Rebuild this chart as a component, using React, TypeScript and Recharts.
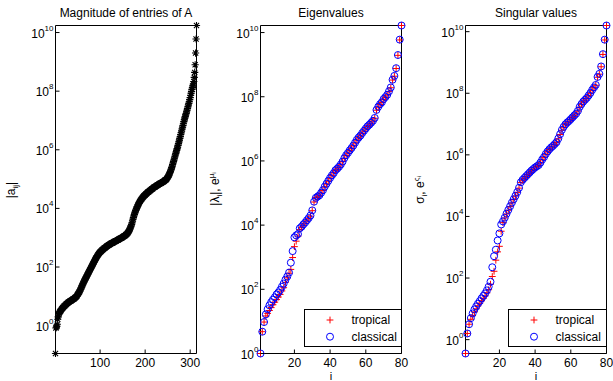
import React from 'react';
import { ScatterChart, Scatter, XAxis, YAxis, Legend } from 'recharts';

const FONT = "'Liberation Sans', Arial, Helvetica, sans-serif";
const W = 613;
const H = 381;

// log10 of sorted magnitudes |a_ij| (panel 1), index 1..314
const entryLog10 = [
  -0.95, -0.08, -0.05, -0.02, 0.05, 0.22, 0.30, 0.37, 0.42, 0.46,
  0.48, 0.50, 0.52, 0.55, 0.57, 0.59, 0.61, 0.62, 0.64, 0.66,
  0.67, 0.69, 0.70, 0.72, 0.73, 0.75, 0.76, 0.77, 0.79, 0.80,
  0.81, 0.82, 0.83, 0.84, 0.85, 0.86, 0.87, 0.88, 0.89, 0.90,
  0.91, 0.92, 0.93, 0.95, 0.96, 0.97, 0.99, 1.00, 1.03, 1.06,
  1.08, 1.11, 1.13, 1.15, 1.18, 1.22, 1.25, 1.29, 1.32, 1.36,
  1.39, 1.43, 1.46, 1.50, 1.53, 1.56, 1.59, 1.62, 1.65, 1.68,
  1.71, 1.74, 1.77, 1.80, 1.83, 1.86, 1.89, 1.92, 1.95, 1.98,
  2.01, 2.04, 2.07, 2.10, 2.13, 2.16, 2.19, 2.22, 2.25, 2.28,
  2.31, 2.33, 2.36, 2.38, 2.41, 2.43, 2.45, 2.47, 2.49, 2.51,
  2.52, 2.54, 2.55, 2.57, 2.58, 2.60, 2.61, 2.62, 2.64, 2.65,
  2.66, 2.67, 2.68, 2.70, 2.71, 2.72, 2.73, 2.74, 2.75, 2.76,
  2.77, 2.78, 2.79, 2.80, 2.81, 2.81, 2.82, 2.83, 2.84, 2.85,
  2.86, 2.87, 2.87, 2.88, 2.89, 2.90, 2.91, 2.91, 2.92, 2.93,
  2.94, 2.95, 2.96, 2.97, 2.97, 2.98, 2.99, 3.00, 3.01, 3.02,
  3.03, 3.04, 3.05, 3.06, 3.07, 3.08, 3.10, 3.11, 3.12, 3.14,
  3.16, 3.18, 3.20, 3.23, 3.26, 3.29, 3.33, 3.37, 3.41, 3.45,
  3.51, 3.57, 3.63, 3.69, 3.74, 3.79, 3.84, 3.88, 3.93, 3.97,
  4.00, 4.04, 4.07, 4.11, 4.14, 4.17, 4.20, 4.23, 4.25, 4.28,
  4.30, 4.32, 4.34, 4.36, 4.38, 4.40, 4.42, 4.43, 4.45, 4.46,
  4.48, 4.49, 4.51, 4.52, 4.54, 4.55, 4.56, 4.57, 4.59, 4.60,
  4.61, 4.62, 4.64, 4.65, 4.66, 4.67, 4.68, 4.70, 4.71, 4.72,
  4.73, 4.74, 4.75, 4.76, 4.77, 4.78, 4.79, 4.80, 4.81, 4.82,
  4.83, 4.84, 4.85, 4.86, 4.86, 4.87, 4.88, 4.89, 4.90, 4.91,
  4.92, 4.93, 4.94, 4.96, 4.97, 4.98, 4.99, 5.01, 5.04, 5.06,
  5.09, 5.11, 5.14, 5.18, 5.22, 5.26, 5.30, 5.34, 5.39, 5.44,
  5.50, 5.55, 5.60, 5.65, 5.71, 5.76, 5.82, 5.87, 5.93, 5.98,
  6.04, 6.09, 6.15, 6.21, 6.27, 6.33, 6.39, 6.45, 6.52, 6.58,
  6.64, 6.71, 6.77, 6.83, 6.89, 6.96, 7.02, 7.08, 7.13, 7.19,
  7.24, 7.30, 7.35, 7.41, 7.47, 7.53, 7.58, 7.64, 7.71, 7.78,
  7.86, 7.93, 7.99, 8.06, 8.12, 8.18, 8.24, 8.33, 8.47, 8.64,
  8.90, 9.30, 9.78, 10.24,
];

// log10 of eigenvalue magnitudes (panel 2), i = 1..80
const eigTropicalLog10 = [
  0.00, 0.68, 0.98, 1.17, 1.25, 1.34, 1.43, 1.52, 1.60, 1.68,
  1.76, 1.84, 1.95, 2.05, 2.22, 2.36, 2.50, 2.62, 2.99, 3.33,
  3.50, 3.66, 3.86, 3.93, 4.00, 4.06, 4.13, 4.20, 4.28, 4.45,
  4.72, 4.86, 4.88, 4.91, 5.00, 5.08, 5.19, 5.28, 5.37, 5.46,
  5.55, 5.63, 5.70, 5.75, 5.81, 5.88, 5.98, 6.08, 6.17, 6.24,
  6.32, 6.39, 6.47, 6.56, 6.65, 6.72, 6.78, 6.86, 6.93, 7.00,
  7.07, 7.12, 7.18, 7.24, 7.33, 7.58, 7.68, 7.76, 7.82, 7.92,
  7.98, 8.05, 8.16, 8.28, 8.52, 8.64, 8.88, 9.29, 9.77, 10.22,
];
const eigClassicalLog10 = [
  0.00, 0.68, 0.98, 1.22, 1.38, 1.50, 1.60, 1.68, 1.75, 1.84,
  1.90, 1.98, 2.08, 2.18, 2.30, 2.40, 2.52, 2.83, 3.19, 3.62,
  3.68, 3.72, 3.90, 3.95, 4.02, 4.08, 4.15, 4.22, 4.30, 4.46,
  4.73, 4.85, 4.89, 4.93, 5.01, 5.09, 5.20, 5.29, 5.38, 5.47,
  5.55, 5.62, 5.71, 5.76, 5.82, 5.89, 5.98, 6.09, 6.18, 6.25,
  6.33, 6.40, 6.48, 6.57, 6.66, 6.73, 6.79, 6.87, 6.94, 7.01,
  7.08, 7.13, 7.19, 7.25, 7.34, 7.59, 7.69, 7.77, 7.83, 7.93,
  7.99, 8.06, 8.17, 8.29, 8.53, 8.65, 8.89, 9.30, 9.78, 10.22,
];

// log10 of singular values (panel 3), i = 1..80
const svdTropicalLog10 = [
  -0.45, 0.20, 0.50, 0.66, 0.78, 0.90, 1.00, 1.10, 1.18, 1.26,
  1.34, 1.42, 1.52, 1.62, 1.80, 2.05, 2.22, 2.58, 2.85, 3.03,
  3.52, 3.80, 3.95, 4.08, 4.20, 4.32, 4.44, 4.55, 4.66, 4.78,
  4.92, 5.10, 5.18, 5.24, 5.30, 5.36, 5.42, 5.48, 5.53, 5.58,
  5.62, 5.66, 5.74, 5.84, 5.92, 6.02, 6.10, 6.17, 6.23, 6.28,
  6.34, 6.40, 6.52, 6.66, 6.80, 6.90, 6.98, 7.04, 7.09, 7.15,
  7.21, 7.27, 7.33, 7.42, 7.55, 7.64, 7.72, 7.78, 7.84, 7.92,
  8.00, 8.10, 8.18, 8.26, 8.52, 8.62, 8.86, 9.26, 9.73, 10.20,
];
const svdClassicalLog10 = [
  -0.45, 0.20, 0.50, 0.70, 0.85, 0.98, 1.08, 1.17, 1.25, 1.34,
  1.42, 1.50, 1.60, 1.72, 1.88, 2.35, 2.71, 2.92, 3.22, 3.45,
  3.74, 3.84, 3.96, 4.09, 4.21, 4.33, 4.45, 4.56, 4.67, 4.79,
  4.93, 5.11, 5.19, 5.25, 5.31, 5.37, 5.43, 5.49, 5.54, 5.59,
  5.63, 5.67, 5.75, 5.85, 5.93, 6.03, 6.11, 6.18, 6.24, 6.29,
  6.35, 6.41, 6.53, 6.67, 6.81, 6.91, 6.99, 7.05, 7.10, 7.16,
  7.22, 7.28, 7.34, 7.43, 7.56, 7.65, 7.73, 7.79, 7.85, 7.93,
  8.01, 8.11, 8.19, 8.27, 8.53, 8.63, 8.87, 9.27, 9.74, 10.20,
];

const logTicks = [1, 1e2, 1e4, 1e6, 1e8, 1e10];
const entryXTicks = [100, 200, 300];
const indexXTicks = [20, 40, 60, 80];
const titles = ['Magnitude of entries of A', 'Eigenvalues', 'Singular values'];

const toPoints = (exps: number[]) => exps.map((e, k) => ({ x: k + 1, y: Math.pow(10, e) }));

const PLOT_TOP = 25.5;
const PLOT_BOTTOM = 353.5;
const XH = 20;
const YW = 40;

function StarMark(props: any) {
  const { cx, cy } = props;
  const r = 3.6;
  const d = r * 0.72;
  return (
    <path
      d={`M${cx - r},${cy}h${2 * r}M${cx},${cy - r}v${2 * r}M${cx - d},${cy - d}l${2 * d},${2 * d}M${cx - d},${cy + d}l${2 * d},${-2 * d}`}
      stroke="#000"
      strokeWidth={1.1}
      fill="none"
    />
  );
}

function PlusMark(props: any) {
  const { cx, cy } = props;
  const r = 3.4;
  return <path d={`M${cx - r},${cy}h${2 * r}M${cx},${cy - r}v${2 * r}`} stroke="#ff0000" strokeWidth={1} fill="none" />;
}

function RingMark(props: any) {
  const { cx, cy } = props;
  return <circle cx={cx} cy={cy} r={3.5} stroke="#0000ff" strokeWidth={1} fill="none" />;
}

function XTick(props: any) {
  const { x, y, payload } = props;
  return (
    <g>
      <line x1={x} x2={x} y1={y} y2={y - 4} stroke="#000" strokeWidth={1} />
      <text x={x} y={y + 13} textAnchor="middle" fontFamily={FONT} fontSize={12} fill="#000">
        {payload.value}
      </text>
    </g>
  );
}

function YTick(props: any) {
  const { x, y, payload } = props;
  const exp = Math.round(Math.log10(payload.value));
  return (
    <g>
      <line x1={x} x2={x + 4} y1={y} y2={y} stroke="#000" strokeWidth={1} />
      <text x={x - 2} y={y + 5} textAnchor="end" fontFamily={FONT} fontSize={12} fill="#000">
        10
        <tspan dy={-7} fontSize={8}>
          {exp}
        </tspan>
      </text>
    </g>
  );
}

type SeriesDef = { name: string; data: { x: number; y: number }[]; mark: 'star' | 'plus' | 'ring' };

function markFor(m: string) {
  if (m === 'star') return (p: any) => <StarMark {...p} />;
  if (m === 'plus') return (p: any) => <PlusMark {...p} />;
  return (p: any) => <RingMark {...p} />;
}

function LegendBox({ items, w, h }: { items: SeriesDef[]; w: number; h: number }) {
  return (
    <svg width={w} height={h} style={{ display: 'block' }}>
      <rect x={0.5} y={0.5} width={w - 1} height={h - 1} fill="#fff" stroke="#000" strokeWidth={1} />
      {items.map((it, k) => {
        const cy = 11 + k * 16.7;
        return (
          <g key={it.name}>
            {it.mark === 'plus' ? <PlusMark cx={26} cy={cy} /> : <RingMark cx={26} cy={cy} />}
            <text x={47.5} y={cy + 4.3} fontFamily={FONT} fontSize={12} fill="#000">
              {it.name}
            </text>
          </g>
        );
      })}
    </svg>
  );
}

type PanelProps = {
  plotLeft: number;
  plotRight: number;
  xDomain: [number, number];
  xTicks: number[];
  series: SeriesDef[];
  legend?: { left: number; top: number; w: number; h: number };
};

function Panel({ plotLeft, plotRight, xDomain, xTicks, series, legend }: PanelProps) {
  const allY = series.flatMap((s) => s.data.map((p) => p.y));
  const yDomain: [number, number] = [Math.min(...allY), Math.max(...allY)];
  return (
    <div style={{ position: 'absolute', left: 0, top: 0, width: W, height: H }}>
      <ScatterChart
        width={W}
        height={H}
        margin={{ top: PLOT_TOP, bottom: H - PLOT_BOTTOM - XH, left: plotLeft - YW, right: W - plotRight }}
      >
        <XAxis
          type="number"
          dataKey="x"
          domain={xDomain}
          ticks={xTicks}
          interval={0}
          height={XH}
          tickLine={false}
          tickSize={0}
          tickMargin={0}
          tick={<XTick />}
          axisLine={{ stroke: '#000', strokeWidth: 1 }}
        />
        <YAxis
          type="number"
          dataKey="y"
          scale="log"
          domain={yDomain}
          ticks={logTicks}
          interval={0}
          width={YW}
          tickLine={false}
          tickSize={0}
          tickMargin={0}
          tick={<YTick />}
          axisLine={{ stroke: '#000', strokeWidth: 1 }}
        />
        <XAxis
          xAxisId="top"
          orientation="top"
          mirror
          type="number"
          domain={xDomain}
          allowDataOverflow
          ticks={xTicks}
          interval={0}
          tick={false}
          tickSize={4}
          tickLine={{ stroke: '#000', strokeWidth: 1 }}
          axisLine={{ stroke: '#000', strokeWidth: 1 }}
        />
        <YAxis
          yAxisId="right"
          orientation="right"
          mirror
          type="number"
          scale="log"
          domain={yDomain}
          allowDataOverflow
          ticks={logTicks}
          interval={0}
          tick={false}
          tickSize={4}
          tickLine={{ stroke: '#000', strokeWidth: 1 }}
          axisLine={{ stroke: '#000', strokeWidth: 1 }}
        />
        {series.map((s) => (
          <Scatter
            key={s.name}
            name={s.name}
            data={s.data}
            shape={markFor(s.mark)}
            isAnimationActive={false}
            fill={s.mark === 'plus' ? '#ff0000' : s.mark === 'ring' ? '#0000ff' : '#000'}
          />
        ))}
        {legend && (
          <Legend
            layout="vertical"
            align="center"
            verticalAlign="middle"
            wrapperStyle={{ left: legend.left, top: legend.top, width: legend.w, height: legend.h }}
            content={() => <LegendBox items={series} w={legend.w} h={legend.h} />}
          />
        )}
      </ScatterChart>
    </div>
  );
}

const textBase: React.CSSProperties = {
  position: 'absolute',
  fontFamily: FONT,
  fontSize: 12,
  color: '#000',
  whiteSpace: 'nowrap',
  lineHeight: '14px',
  pointerEvents: 'none',
};

function Title({ cx, text }: { cx: number; text: string }) {
  return <div style={{ ...textBase, left: cx, top: 13, transform: 'translate(-50%, -50%)' }}>{text}</div>;
}

function VLabel({ cx, cy, children }: { cx: number; cy: number; children: React.ReactNode }) {
  return (
    <div style={{ ...textBase, left: cx, top: cy, transform: 'translate(-50%, -50%) rotate(-90deg)' }}>{children}</div>
  );
}

const subStyle: React.CSSProperties = { fontSize: 8, verticalAlign: -3 };
const supStyle: React.CSSProperties = { fontSize: 8, verticalAlign: 5 };
const xLabelStyle: React.CSSProperties = { ...textBase, fontSize: 11, lineHeight: '10px', top: 371 };

export default function App() {
  return (
    <div style={{ position: 'absolute', left: 0, top: 0, width: W, height: H, background: '#fff', overflow: 'hidden' }}>
      <Panel
        plotLeft={55.5}
        plotRight={196.5}
        xDomain={[1, entryLog10.length]}
        xTicks={entryXTicks}
        series={[{ name: 'entries', data: toPoints(entryLog10), mark: 'star' }]}
      />
      <Panel
        plotLeft={260.5}
        plotRight={401.5}
        xDomain={[1, eigTropicalLog10.length]}
        xTicks={indexXTicks}
        series={[
          { name: 'tropical', data: toPoints(eigTropicalLog10), mark: 'plus' },
          { name: 'classical', data: toPoints(eigClassicalLog10), mark: 'ring' },
        ]}
        legend={{ left: 304, top: 309, w: 98, h: 38 }}
      />
      <Panel
        plotLeft={465.5}
        plotRight={606.5}
        xDomain={[1, svdTropicalLog10.length]}
        xTicks={indexXTicks}
        series={[
          { name: 'tropical', data: toPoints(svdTropicalLog10), mark: 'plus' },
          { name: 'classical', data: toPoints(svdClassicalLog10), mark: 'ring' },
        ]}
        legend={{ left: 508, top: 309, w: 99, h: 38 }}
      />
      <Title cx={126} text={titles[0]} />
      <Title cx={331} text={titles[1]} />
      <Title cx={536} text={titles[2]} />
      <VLabel cx={12.5} cy={190}>
        |a<span style={subStyle}>ij</span>|
      </VLabel>
      <VLabel cx={216} cy={189}>
        |λ<span style={subStyle}>i</span>|, e<span style={supStyle}>μ<span style={{ fontSize: 6, verticalAlign: -2 }}>i</span></span>
      </VLabel>
      <VLabel cx={421} cy={190}>
        σ<span style={subStyle}>i</span>, e<span style={supStyle}>ς<span style={{ fontSize: 6, verticalAlign: -2 }}>i</span></span>
      </VLabel>
      <div style={{ ...xLabelStyle, left: 331, transform: 'translateX(-50%)' }}>i</div>
      <div style={{ ...xLabelStyle, left: 536, transform: 'translateX(-50%)' }}>i</div>
    </div>
  );
}
